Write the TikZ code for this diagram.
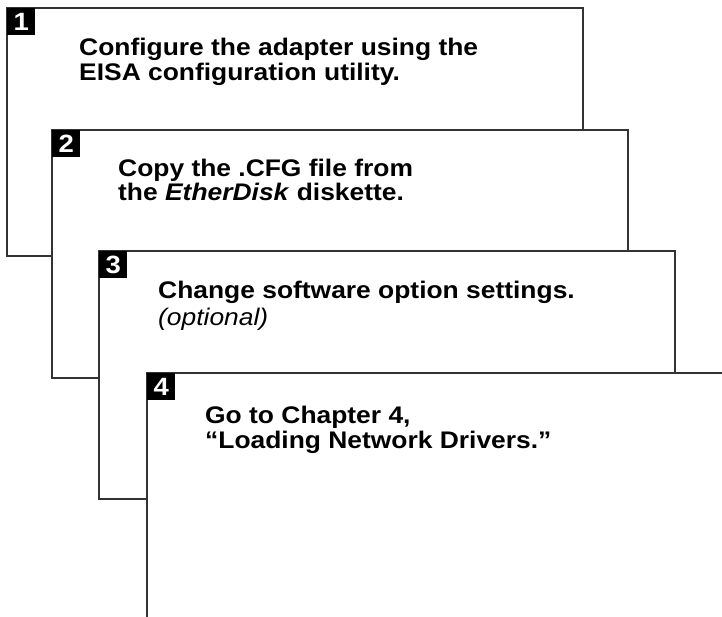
\documentclass[tikz,border=0pt]{standalone}
\usepackage{fontspec}
\setmainfont{Liberation Sans}
\newfontfamily\widesans[FakeStretch=1.10]{Liberation Sans}
\begin{document}
\begin{tikzpicture}[x=1pt,y=-1pt,
  card/.style={draw=black!80, line width=1.6pt, fill=white, inner sep=0pt,
    minimum width=576pt, minimum height=248pt, anchor=north west},
  badge/.style={fill=black, text=white, inner sep=0pt, minimum width=28pt,
    minimum height=27pt, anchor=north west, font=\widesans\bfseries\fontsize{25}{25}\selectfont},
  txt/.style={anchor=base west, inner sep=0pt, font=\widesans\bfseries\fontsize{24}{24}\selectfont},
  itxt/.style={anchor=base west, inner sep=0pt, font=\widesans\itshape\fontsize{24}{24}\selectfont}
]
\useasboundingbox (0,0) rectangle (722,617);
\fill[white] (0,0) rectangle (722,617);
% card 1
\node[card] (c1) at (6,7) {};
\node[badge] (b1) at (7,8) {1};
\node[txt] (t1a) at (79,55.5) {Configure the adapter using the};
\node[txt] (t1b) at (79,80.5) {EISA configuration utility.};
% card 2
\node[card] (c2) at (51,129) {};
\node[badge] (b2) at (52,130) {2};
\node[txt] (t2a) at (118,176.5) {Copy the .CFG file from};
\node[txt] (t2b) at (118,200.5) {the \textit{EtherDisk} diskette.};
% card 3
\node[card] (c3) at (98,250) {};
\node[badge] (b3) at (99,251) {3};
\node[txt] (t3a) at (158,298.5) {Change software option settings.};
\node[itxt] (t3b) at (158,325) {(optional)};
% card 4
\node[card] (c4) at (146,372) {};
\node[badge] (b4) at (147,373) {4};
\node[txt] (t4a) at (205,423) {Go to Chapter 4,};
\node[txt] (t4b) at (205,448) {“Loading Network Drivers.”};
\end{tikzpicture}
\end{document}
